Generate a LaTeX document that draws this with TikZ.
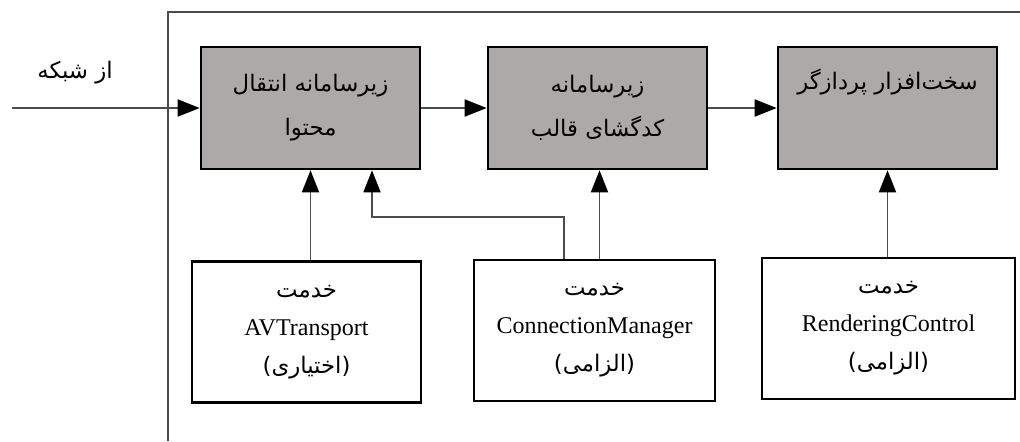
\documentclass[tikz,border=0pt]{standalone}
\usepackage{fontspec}
\setmainfont{Liberation Serif}
\newfontfamily\fa[Script=Arabic,Scale=0.95]{DejaVu Sans}
\TeXXeTstate=1
\newcommand\FA[1]{{\fa\beginR #1\endR}}
\usetikzlibrary{arrows.meta,calc}
\definecolor{boxgray}{RGB}{173,169,168}
\tikzset{
  grayblock/.style={draw=black,line width=1.3pt,fill=boxgray,minimum width=109.5pt,minimum height=61pt,inner sep=0pt,align=center,font=\fontsize{12}{22}\selectfont},
  whiteblock/.style={draw=black,line width=1.3pt,fill=white,minimum height=70.5pt,inner sep=0pt,align=center,font=\fontsize{12}{19}\selectfont},
  conn/.style={draw=black!70,line width=0.9pt},
  arr/.style={conn,-{Triangle[length=11pt,width=8.5pt,color=black]}}
}
\begin{document}
\begin{tikzpicture}[x=0.5pt,y=-0.5pt]
\useasboundingbox (0,0) rectangle (1020,441);
% outer frame
\coordinate (fbl) at (168,441);
\coordinate (ftl) at (168,12);
\coordinate (ftr) at (1020,12);
\draw[draw=black!70,line width=0.8pt] (fbl) -- (ftl) -- (ftr);
% top blocks
\node[grayblock] (b1) at (310.5,108) {\FA{زیرسامانه انتقال}\\\FA{محتوا}};
\node[grayblock] (b2) at (597.5,108) {\FA{زیرسامانه}\\\FA{کدگشای قالب}};
\node[grayblock] (b3) at (887.5,108) {\FA{سخت‌افزار پردازگر}\\\strut};
% bottom blocks
\node[whiteblock,minimum width=114.5pt] (b4) at (306.5,332) {\FA{خدمت}\\AVTransport\\\FA{(اختیاری)}};
\node[whiteblock,minimum width=120.5pt] (b5) at (594.5,330.5) {\FA{خدمت}\\ConnectionManager\\\FA{(الزامی)}};
\node[whiteblock,minimum width=126.5pt] (b6) at (888.5,328.5) {\FA{خدمت}\\RenderingControl\\\FA{(الزامی)}};
% input
\coordinate (in) at (12,108);
\node[font=\fontsize{12}{14}\selectfont] (lbl) at (75,73) {\FA{از شبکه}};
\draw[arr] (in) -- (b1.west);
\draw[arr] (b1.east) -- (b2.west);
\draw[arr] (b2.east) -- (b3.west);
% vertical connectors
\draw[arr] (b1.south |- b4.north) -- (b1.south);
\coordinate (cmstart) at ($(b5.north)+(-30.5,0)$);
\coordinate (cmmid) at ($(b5.north)+(5,0)$);
\coordinate (bend) at (372,217);
\draw[arr] (cmstart) |- (bend) -- (bend |- b1.south);
\draw[arr] (cmmid) -- (cmmid |- b2.south);
\draw[arr] (b3.south |- b6.north) -- (b3.south);
\end{tikzpicture}
\end{document}
